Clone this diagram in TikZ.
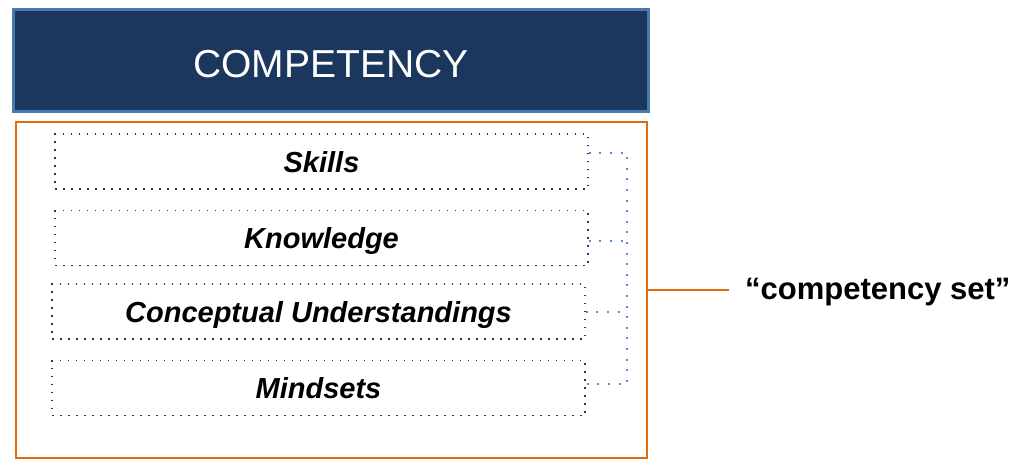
\documentclass[tikz,border=0pt]{standalone}
\usepackage{fontspec}
\setmainfont{Liberation Sans}
\definecolor{navy}{HTML}{1B375E}
\definecolor{navyedge}{HTML}{4A79B0}
\definecolor{orng}{HTML}{E36C0A}
\definecolor{dotdark}{HTML}{1F3864}
\definecolor{dotblue}{HTML}{5B8BD0}
\begin{document}
\begin{tikzpicture}[x=1pt,y=1pt,
  headbox/.style={draw=navyedge,line width=3pt,fill=navy,minimum width=635pt,minimum height=102pt,inner sep=0pt,text=white,text height=33pt,text depth=0pt,font=\fontsize{39}{40}\selectfont},
  setbox/.style={draw=orng,line width=2pt,minimum width=631pt,minimum height=336pt,inner sep=0pt},
  itembox/.style={draw=dotdark,line width=1.5pt,dash pattern=on 1.5pt off 6.5pt,minimum width=533pt,minimum height=55pt,inner sep=0pt,text height=21pt,text depth=0pt,font=\fontsize{29}{30}\selectfont\bfseries\itshape},
  bracket/.style={draw=dotblue,line width=2pt,dash pattern=on 2pt off 8.6pt},
  orline/.style={draw=orng,line width=2pt}]
\useasboundingbox (0,0) rectangle (1020,-461);
\node[headbox] (comp) at (331,-60.5) {COMPETENCY};
\node[setbox] (set) at (331.5,-290) {};
\node[itembox] (s1) at (321.5,-161.5) {Skills};
\node[itembox] (s2) at (321.5,-238) {Knowledge};
\node[itembox] (s3) at (318.5,-311.5) {Conceptual Understandings};
\node[itembox] (s4) at (318.5,-388) {Mindsets};
\coordinate (bx) at (627,0);
\draw[bracket] ([yshift=8.5pt]s1.east) -- ([yshift=8.5pt]s1.east -| bx) -- ([yshift=4pt]s4.east -| bx) -- ([yshift=4pt]s4.east);
\draw[bracket] ([yshift=-3pt]s2.east) -- ([yshift=-3pt]s2.east -| bx);
\draw[bracket] ([yshift=-0.5pt]s3.east) -- ([yshift=-0.5pt]s3.east -| bx);
\coordinate (lend) at (729,-290);
\draw[orline] (set.east) -- (lend);
\node[anchor=west,inner sep=0pt,font=\fontsize{31}{32}\selectfont\bfseries] (lbl) at (745,-292) {“competency set”};
\end{tikzpicture}
\end{document}
